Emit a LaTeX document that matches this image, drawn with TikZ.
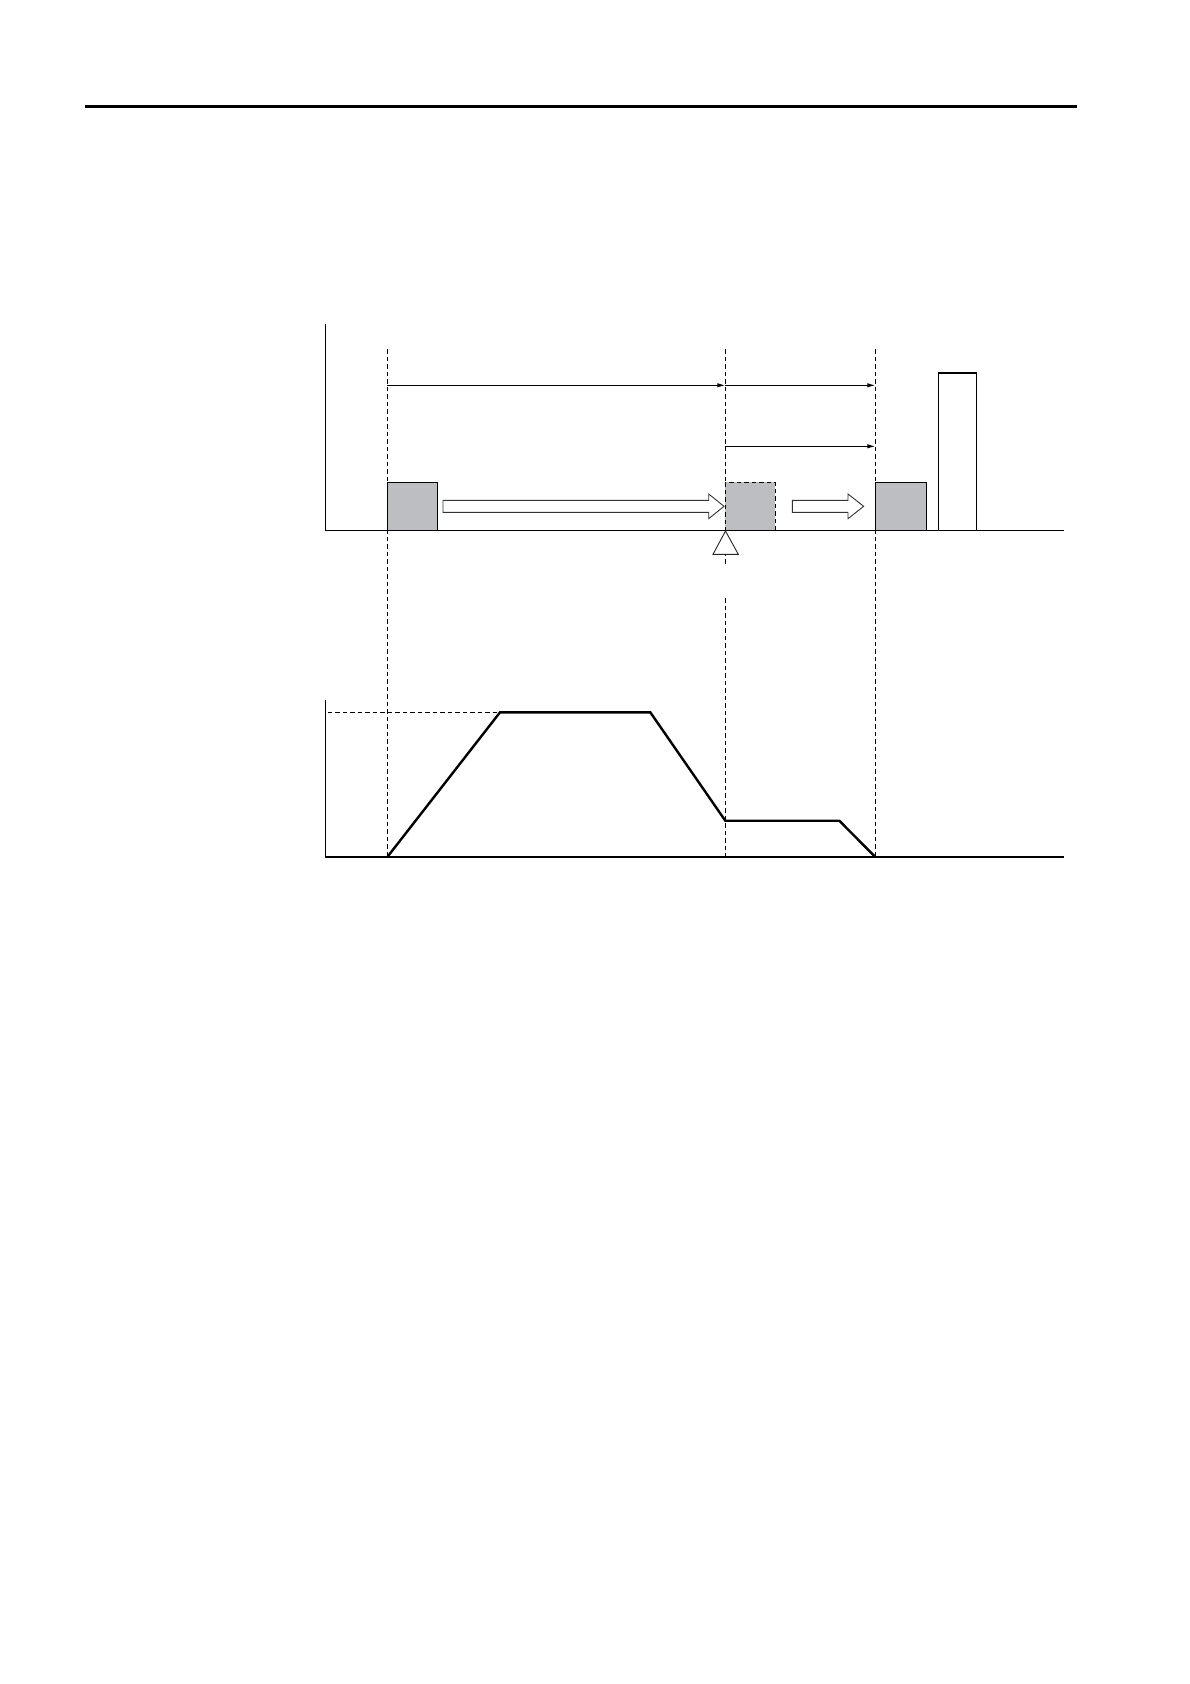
\documentclass[tikz,border=0pt]{standalone}
\usetikzlibrary{arrows.meta}
\definecolor{boxgray}{RGB}{189,190,193}
\begin{document}
\begin{tikzpicture}[x=1pt,y=-1pt,
  axisline/.style={line width=1.3pt},
  guide/.style={line width=1.3pt, dash pattern=on 4.5pt off 3pt},
  dimline/.style={line width=1.1pt, -{Latex[length=8pt,width=4.5pt]}},
  block/.style={fill=boxgray, draw=black, line width=1.3pt},
  ghost/.style={fill=boxgray, draw=black, line width=1.3pt, dash pattern=on 4.5pt off 3pt},
  hollow/.style={draw=black!80, fill=white, line width=0.9pt, line join=miter},
  profile/.style={line width=2.4pt, line join=miter},
  rule/.style={line width=3pt}]
\useasboundingbox (0,0) rectangle (1190,1684);
% top rule
\draw[rule] (85,106.5) -- (1077,106.5);
% guide lines
\draw[guide] (387.3,349) -- (387.3,857);
\draw[guide] (875.3,349) -- (875.3,857);
\draw[guide] (725.3,349) -- (725.3,565);
\draw[guide] (725.3,598.3) -- (725.3,857);
% upper axes
\draw[axisline] (325.3,324) -- (325.3,530.3) -- (1064,530.3);
% dimension arrows
\coordinate (d1s) at (387.3,385.3);
\coordinate (d1e) at (725.3,385.3);
\coordinate (d2e) at (875.3,385.3);
\coordinate (d3s) at (725.3,446.3);
\coordinate (d3e) at (875.3,446.3);
\draw[dimline] (d1s) -- (d1e);
\draw[dimline] (d1e) -- (d2e);
\draw[dimline] (d3s) -- (d3e);
% blocks
\draw[block] (387.3,482.3) rectangle (437.3,530.3);
\draw[ghost] (725.3,482.3) rectangle (775.3,530.3);
\draw[block] (875.3,482.3) rectangle (926.7,530.3);
\draw[draw=black, fill=white, line width=1.3pt] (938.3,373) rectangle (976.3,530.3);
% hollow arrows
\draw[hollow] (443,500.3) -- (708.7,500.3) -- (708.7,494) -- (724,506.3) -- (708.7,518.7) -- (708.7,512.3) -- (443,512.3) -- cycle;
\draw[hollow] (792.3,500.3) -- (848,500.3) -- (848,494) -- (863.7,506.3) -- (848,518.7) -- (848,512.3) -- (792.3,512.3) -- cycle;
% sensor triangle
\draw[draw=black!85, fill=white, line width=0.9pt] (725.5,531) -- (738.3,554.3) -- (713,554.3) -- cycle;
% lower axes
\draw[axisline] (325.3,700) -- (325.3,857) -- (1064,857);
\draw[guide] (327.7,712.3) -- (500,712.3);
% speed profile
\draw[profile] (387.3,857) -- (500,712.3) -- (650.3,712.3) -- (725.3,820.7) -- (839.3,820.7) -- (875.3,857);
\end{tikzpicture}
\end{document}
